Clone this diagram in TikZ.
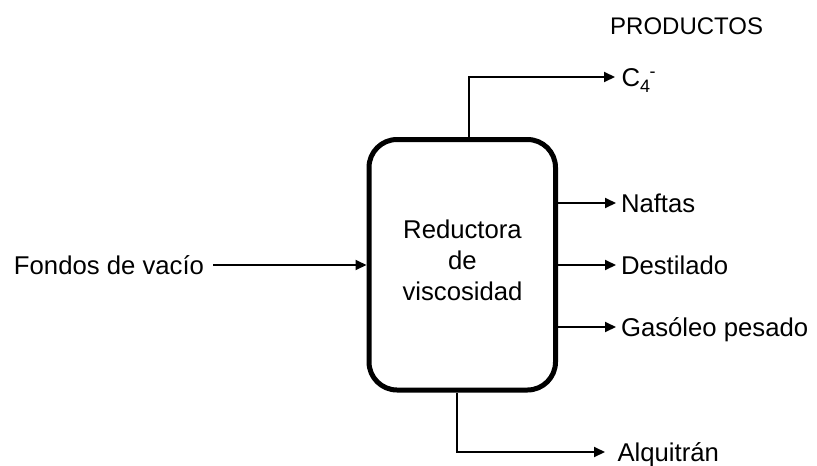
\documentclass[tikz,border=0pt]{standalone}
\usepackage{fontspec}
\setmainfont{Liberation Sans}
\usetikzlibrary{arrows.meta}

\tikzset{
  unit/.style={font=\fontsize{25.7}{30}\selectfont},
  lbl/.style={unit, inner xsep=5pt, inner ysep=0pt, outer sep=0pt,
              text height=18.4pt, text depth=0pt},
  unitbox/.style={draw, line width=5pt, rounded corners=28pt,
                  minimum width=186.5pt, minimum height=250.5pt, inner sep=0pt},
  flow/.style={line width=2pt, -{Triangle[length=11pt,width=10pt]}},
}
\newcommand{\smallsz}{\fontsize{18}{18}\selectfont}

\begin{document}
\begin{tikzpicture}[x=1pt, y=-1pt]
  \fill[white] (0,0) rectangle (817,466);

  % process unit
  \node[unitbox] (box) at (462.25,264.75) {};
  \node[font=\fontsize{25.7}{31.3}\selectfont, align=center, inner sep=0pt]
    (bt) at (462.5,260.2) {Reductora\\de\\viscosidad};

  % feed
  \node[lbl, anchor=east, inner xsep=9pt] (fon) at (213,265) {Fondos de vacío};

  % products
  \node[font=\fontsize{24}{28}\selectfont, anchor=base west, inner sep=0pt]
    (prod) at (610,34) {PRODUCTOS};
  \node[lbl, anchor=west, inner xsep=6.5pt] (c4) at (615,77)
    {C\raisebox{-6pt}{\smallsz 4}\kern-0.5pt\raisebox{9pt}{\smallsz -}};
  \node[lbl, anchor=west] (naf) at (616,203) {Naftas};
  \node[lbl, anchor=west] (des) at (616,265) {Destilado};
  \node[lbl, anchor=west] (gas) at (616,327) {Gasóleo pesado};
  \node[lbl, anchor=west, inner xsep=12.5pt] (alq) at (605,452) {Alquitrán};

  % streams
  \draw[flow] (fon.east) -- (box.west |- fon.east);
  \draw[flow] ([xshift=6.75pt]box.north) |- (c4.west);
  \draw[flow] (box.east |- naf.west) -- (naf.west);
  \draw[flow] (box.east |- des.west) -- (des.west);
  \draw[flow] (box.east |- gas.west) -- (gas.west);
  \draw[flow] ([xshift=-5.25pt]box.south) |- (alq.west);
\end{tikzpicture}
\end{document}
